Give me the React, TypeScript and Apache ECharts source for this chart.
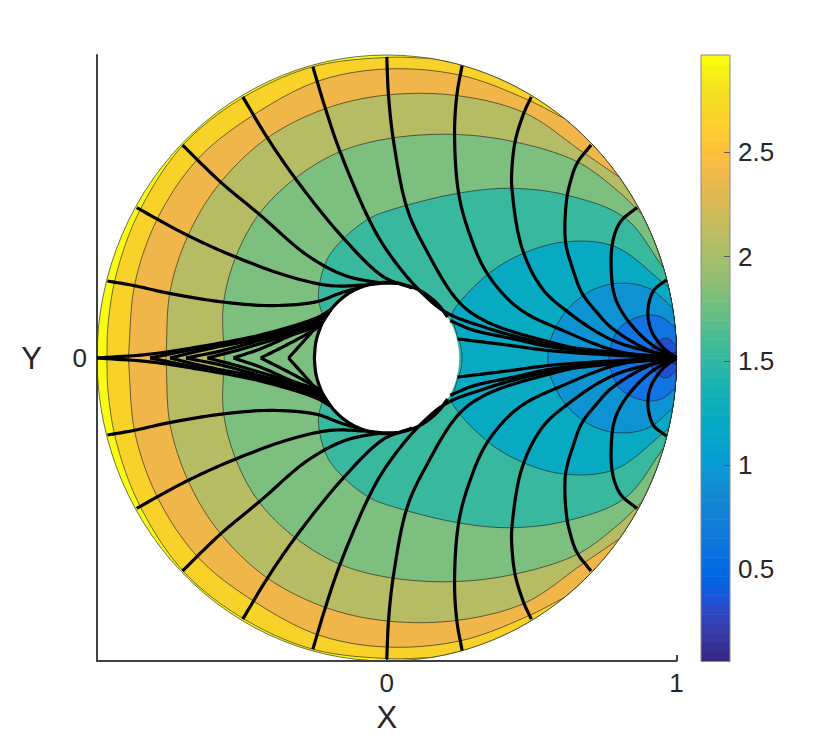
import React, { useEffect, useRef } from "react";
import * as echarts from "echarts";

type P = number[];

// Contour levels (upper half; the lower half mirrors them)
const K1: P[] = [[-0.966,0],[-0.962,0.109],[-0.934,0.274],[-0.855,0.482],[-0.703,0.703],[-0.497,0.859],[-0.256,0.961],[0.001,0.992],[0.15,0.989]];
const K2: P[] = [[-0.892,0],[-0.869,0.247],[-0.788,0.466],[-0.65,0.659],[-0.46,0.802],[-0.236,0.914],[0.001,0.954],[0.26,0.932],[0.489,0.851],[0.61,0.792]];
const K3: P[] = [[-0.762,0],[-0.748,0.219],[-0.685,0.406],[-0.581,0.571],[-0.414,0.725],[-0.209,0.824],[0.001,0.868],[0.242,0.866],[0.478,0.808],[0.674,0.681],[0.807,0.594]];
const K4: P[] = [[-0.561,0],[-0.564,0.175],[-0.523,0.329],[-0.443,0.472],[-0.316,0.593],[-0.161,0.681],[0.012,0.725],[0.231,0.738],[0.438,0.714],[0.657,0.648],[0.8,0.549],[0.876,0.479]];
const K5: P[] = [[-0.161,0],[-0.224,0.149],[-0.236,0.208],[-0.207,0.323],[-0.143,0.4],[-0.059,0.461],[0.012,0.488],[0.248,0.544],[0.432,0.56],[0.628,0.536],[0.824,0.461],[0.956,0.296]];
const K6: P[] = [[0.26,0],[0.256,0.036],[0.245,0.069],[0.23,0.119],[0.225,0.145],[0.346,0.274],[0.473,0.346],[0.622,0.384],[0.789,0.367],[0.972,0.234]];
const K7: P[] = [[0.556,0],[0.559,0.043],[0.617,0.153],[0.709,0.224],[0.807,0.247],[0.904,0.23],[0.988,0.165]];
const K8: P[] = [[0.766,0],[0.772,0.037],[0.807,0.103],[0.887,0.14],[0.945,0.136],[0.995,0.102]];
const K9: P[] = [[0.91,0],[0.916,0.033],[0.939,0.057],[0.968,0.065],[0.998,0.043]];
const K10: P[] = [[0.985,0],[0.986,0.017],[0.9995,0.02]];
const CONTOURS = [K1, K2, K3, K4, K5, K6, K7, K8, K9, K10];
const DISC_COLOR = "#f9fb15";
const BAND_COLORS = ["#f8d228", "#f1b649", "#b6bc64", "#7cbf7f", "#38b89e", "#08a9c2", "#0e93d2", "#1473e3", "#2050d0", "#352a87"];
const OUTER_RADIUS = 1;
const HOLE_RADIUS = 0.25;

// Streamlines (upper half)
const L1: P[] = [[-0.964,0.254],[-0.872,0.239],[-0.754,0.214],[-0.558,0.184],[-0.391,0.173],[-0.241,0.186],[-0.161,0.214],[-0.103,0.23]];
const L2: P[] = [[-0.863,0.496],[-0.69,0.406],[-0.523,0.334],[-0.333,0.268],[-0.195,0.239],[-0.08,0.241],[0,0.249]];
const L3: P[] = [[-0.705,0.703],[-0.575,0.582],[-0.437,0.472],[-0.276,0.34],[-0.149,0.274],[-0.034,0.25],[0.047,0.246]];
const L4: P[] = [[-0.497,0.862],[-0.414,0.73],[-0.316,0.593],[-0.149,0.395],[-0.011,0.268],[0.088,0.231]];
const L5: P[] = [[-0.255,0.961],[-0.212,0.824],[-0.161,0.681],[-0.063,0.461],[-0.005,0.363],[0.098,0.238],[0.202,0.152],[0.333,0.103],[0.45,0.07],[0.575,0.043],[0.772,0.02],[0.962,0.003],[1,0]];
const L6: P[] = [[0,0.994],[0.006,0.868],[0.023,0.719],[0.07,0.494],[0.133,0.362],[0.248,0.186],[0.346,0.119],[0.558,0.054],[0.743,0.016],[1,0]];
const L7: P[] = [[0.26,0.965],[0.242,0.868],[0.234,0.736],[0.248,0.544],[0.283,0.417],[0.346,0.28],[0.455,0.164],[0.617,0.087],[0.801,0.021],[1,0]];
const L8: P[] = [[0.499,0.862],[0.473,0.808],[0.444,0.719],[0.432,0.626],[0.432,0.56],[0.467,0.362],[0.536,0.23],[0.617,0.158],[0.778,0.059],[1,0]];
const L9: P[] = [[0.705,0.703],[0.657,0.643],[0.634,0.582],[0.62,0.516],[0.617,0.384],[0.645,0.285],[0.674,0.214],[0.723,0.153],[0.778,0.098],[0.904,0.026],[1,0]];
const L10: P[] = [[0.864,0.497],[0.807,0.45],[0.78,0.384],[0.775,0.285],[0.789,0.197],[0.835,0.12],[0.916,0.043],[1,0]];
const L11: P[] = [[0.965,0.257],[0.922,0.224],[0.902,0.164],[0.91,0.098],[0.951,0.037],[1,0]];
const LA: P[] = [[0.244,0.063],[0.415,0.043],[0.565,0.024],[0.772,0.01],[1,0]];
const LB: P[] = [[0.219,0.123],[0.299,0.092],[0.437,0.063],[0.565,0.037],[0.772,0.015],[1,0]];
const RIM: P[] = [[-0.25,0],[-0.245,0.05],[-0.235,0.085],[-0.217,0.125],[-0.177,0.177],[-0.125,0.217],[-0.065,0.241],[0,0.25],[0.065,0.241],[0.125,0.217],[0.177,0.177],[0.21,0.135]];
const V1: P[] = [[-0.339,0],[-0.258,0.087],[-0.241,0.109],[-0.195,0.158]];
const V2: P[] = [[-0.435,0],[-0.362,0.035],[-0.293,0.07],[-0.236,0.103],[-0.195,0.158]];
const V3: P[] = [[-0.529,0],[-0.431,0.032],[-0.327,0.076],[-0.237,0.109],[-0.195,0.158]];
const V4: P[] = [[-0.619,0],[-0.513,0.026],[-0.397,0.059],[-0.271,0.098],[-0.195,0.158]];
const V5: P[] = [[-0.693,0],[-0.569,0.024],[-0.431,0.06],[-0.258,0.109],[-0.195,0.158]];
const V6: P[] = [[-0.748,0],[-0.617,0.03],[-0.431,0.066],[-0.258,0.113],[-0.195,0.158]];
const V7: P[] = [[-0.817,0],[-0.661,0.03],[-0.431,0.072],[-0.241,0.129],[-0.195,0.158]];
const V8: P[] = [[-1,0],[-0.824,0.012],[-0.661,0.035],[-0.431,0.077],[-0.241,0.133],[-0.195,0.158]];
const STREAMLINES = [L1, L2, L3, L4, L5, L6, L7, L8, L9, L10, L11, LA, LB, RIM, V1, V2, V3, V4, V5, V6, V7, V8];

// Axis ticks
const X_TICKS = [0, 1];
const Y_TICKS = [0];
const CBAR_TICKS = [0.5, 1, 1.5, 2, 2.5];
const CBAR_MIN = 0.057;
const CBAR_MAX = 2.967;

// Colour map of the colour bar (64 steps)
const PARULA: number[][] = [
  [0.2081,0.1663,0.5292],[0.2116,0.1898,0.5777],[0.2123,0.2138,0.627],[0.2081,0.2386,0.6771],[0.1959,0.2645,0.7279],[0.1707,0.2919,0.7792],[0.1253,0.3242,0.8303],[0.0591,0.3598,0.8683],
  [0.0117,0.3875,0.882],[0.006,0.4086,0.8828],[0.0165,0.4266,0.8786],[0.0329,0.443,0.872],[0.0498,0.4586,0.8641],[0.0629,0.4737,0.8554],[0.0723,0.4887,0.8467],[0.0779,0.504,0.8384],
  [0.0793,0.52,0.8312],[0.0749,0.5375,0.8263],[0.0641,0.557,0.824],[0.0488,0.5772,0.8228],[0.0343,0.5966,0.8199],[0.0265,0.6137,0.8135],[0.0239,0.6287,0.8038],[0.0231,0.6418,0.7913],
  [0.0228,0.6535,0.7768],[0.0267,0.6642,0.7607],[0.0384,0.6743,0.7436],[0.059,0.6838,0.7254],[0.0843,0.6928,0.7062],[0.1133,0.7015,0.6859],[0.1453,0.7098,0.6646],[0.1801,0.7177,0.6424],
  [0.2178,0.725,0.6193],[0.2586,0.7317,0.5954],[0.3022,0.7376,0.5712],[0.3482,0.7424,0.5473],[0.3953,0.7459,0.5244],[0.442,0.7481,0.5033],[0.4871,0.7491,0.484],[0.53,0.7491,0.4661],
  [0.5709,0.7485,0.4494],[0.6099,0.7473,0.4337],[0.6473,0.7456,0.4188],[0.6834,0.7435,0.4044],[0.7184,0.7411,0.3905],[0.7525,0.7384,0.3768],[0.7858,0.7356,0.3633],[0.8185,0.7327,0.3498],
  [0.8507,0.7299,0.336],[0.8824,0.7274,0.3217],[0.9139,0.7258,0.3063],[0.945,0.7261,0.2886],[0.9739,0.7314,0.2666],[0.9938,0.7455,0.2403],[0.999,0.7653,0.2164],[0.9955,0.7861,0.1967],
  [0.988,0.8066,0.1794],[0.9789,0.8271,0.1633],[0.9697,0.8481,0.1475],[0.9626,0.8705,0.1309],[0.9589,0.8949,0.1132],[0.9598,0.9218,0.0948],[0.9661,0.9514,0.0755],[0.9763,0.9831,0.0538],
];

const FONT = "'Liberation Sans', Arial, sans-serif";
const INK = "#262626";

const mirror = (pts: P[]): P[] => pts.map(([x, y]) => [x, -y]);
const ALL_LINES = [...STREAMLINES, ...STREAMLINES.map(mirror)];

// Centripetal Catmull-Rom smoothing of a polyline, on drawing coordinates
function spline(pts: number[][]): number[][] {
  const n = pts.length;
  if (n < 3) return pts;
  const dt: number[] = [];
  for (let i = 0; i < n - 1; i++) {
    dt.push(Math.max(Math.sqrt(Math.hypot(pts[i + 1][0] - pts[i][0], pts[i + 1][1] - pts[i][1])), 1e-3));
  }
  const tangent = (i: number, d: number) => {
    if (i === 0) return (pts[1][d] - pts[0][d]) / dt[0];
    if (i === n - 1) return (pts[n - 1][d] - pts[n - 2][d]) / dt[n - 2];
    return (pts[i][d] - pts[i - 1][d]) / dt[i - 1] - (pts[i + 1][d] - pts[i - 1][d]) / (dt[i - 1] + dt[i]) + (pts[i + 1][d] - pts[i][d]) / dt[i];
  };
  const out: number[][] = [];
  for (let i = 0; i < n - 1; i++) {
    for (let k = 0; k < 10; k++) {
      const t = k / 10, t2 = t * t, t3 = t2 * t;
      out.push([0, 1].map((d) =>
        (2 * t3 - 3 * t2 + 1) * pts[i][d] + (t3 - 2 * t2 + t) * dt[i] * tangent(i, d) + (-2 * t3 + 3 * t2) * pts[i + 1][d] + (t3 - t2) * dt[i] * tangent(i + 1, d)
      ));
    }
  }
  out.push(pts[n - 1]);
  return out;
}

function ring(radius: number, from: number, to: number, coord: (p: number[]) => number[]): number[][] {
  const res: number[][] = [];
  const n = 120;
  for (let i = 0; i <= n; i++) {
    const a = from + ((to - from) * i) / n;
    res.push(coord([radius * Math.cos(a), radius * Math.sin(a)]));
  }
  return res;
}

const EDGE = { stroke: "rgba(30,30,30,0.8)", lineWidth: 0.8 };

function renderBands(params: any, api: any) {
  const coord = (p: number[]) => api.coord(p);
  const i = params.dataIndex;
  if (i === 0) {
    return { type: "polygon", shape: { points: ring(OUTER_RADIUS, Math.PI, -Math.PI, coord) }, style: { fill: DISC_COLOR, ...EDGE } };
  }
  if (i === CONTOURS.length + 1) {
    return { type: "polygon", shape: { points: ring(HOLE_RADIUS, Math.PI, -Math.PI, coord) }, style: { fill: "#ffffff" } };
  }
  const curve = CONTOURS[i - 1];
  const end = curve[curve.length - 1];
  const theta = Math.atan2(end[1], end[0]);
  const upper = spline(curve.map(coord));
  const lower = spline(mirror(curve).reverse().map(coord));
  const points = upper.concat(ring(OUTER_RADIUS, theta, -theta, coord)).concat(lower);
  return { type: "polygon", shape: { points }, style: { fill: BAND_COLORS[i - 1], ...EDGE } };
}

function renderStream(params: any, api: any) {
  const points = spline(ALL_LINES[params.dataIndex].map((p) => api.coord(p)));
  return { type: "polyline", shape: { points }, style: { fill: "none", stroke: "#000000", lineWidth: 3.2 } };
}

function renderBar(params: any, api: any) {
  const n = PARULA.length;
  const left = api.coord([0, CBAR_MIN]);
  const right = api.coord([1, CBAR_MAX]);
  if (params.dataIndex === n) {
    return { type: "rect", shape: { x: left[0], y: right[1], width: right[0] - left[0], height: left[1] - right[1] }, style: { fill: "none", stroke: "#8a8a8a", lineWidth: 1 } };
  }
  const [r, g, b] = PARULA[params.dataIndex];
  const y0 = api.coord([0, CBAR_MIN + ((CBAR_MAX - CBAR_MIN) * params.dataIndex) / n])[1];
  const y1 = api.coord([0, CBAR_MIN + ((CBAR_MAX - CBAR_MIN) * (params.dataIndex + 1)) / n])[1];
  return {
    type: "rect",
    shape: { x: left[0], y: y1, width: right[0] - left[0], height: y0 - y1 + 0.5 },
    style: { fill: `rgb(${Math.round(r * 255)},${Math.round(g * 255)},${Math.round(b * 255)})` },
  };
}

export default function App() {
  const ref = useRef<HTMLDivElement>(null);
  useEffect(() => {
    const chart = echarts.init(ref.current!, undefined, { renderer: "svg" });
    const axisText = { color: INK, fontSize: 26, fontFamily: FONT };
    chart.setOption({
      animation: false,
      backgroundColor: "#ffffff",
      grid: [
        { left: 97, top: 55, width: 579.5, height: 606 },
        { left: 701, top: 55, width: 29, height: 606.5 },
      ],
      xAxis: [
        {
          gridIndex: 0, type: "value", min: -1, max: 1, z: 3,
          splitLine: { show: false },
          axisLine: { show: true, onZero: false, lineStyle: { color: "#404040", width: 2 } },
          axisTick: { show: true, inside: true, length: 6, customValues: X_TICKS, lineStyle: { color: "#404040", width: 2 } },
          axisLabel: { ...axisText, margin: 9, customValues: X_TICKS, formatter: (v: number) => String(v) },
          name: "X", nameLocation: "middle", nameGap: 41,
          nameTextStyle: { color: INK, fontSize: 31, fontFamily: FONT },
        },
        { gridIndex: 1, type: "value", min: 0, max: 1, show: false },
      ],
      yAxis: [
        {
          gridIndex: 0, type: "value", min: -1, max: 1, z: 3,
          splitLine: { show: false },
          axisLine: { show: true, onZero: false, lineStyle: { color: "#404040", width: 2 } },
          axisTick: { show: true, inside: true, length: 6, customValues: Y_TICKS, lineStyle: { color: "#404040", width: 2 } },
          axisLabel: { ...axisText, margin: 10, customValues: Y_TICKS, formatter: (v: number) => String(v) },
          name: "Y", nameLocation: "middle", nameGap: 55, nameRotate: 0,
          nameTextStyle: { color: INK, fontSize: 31, fontFamily: FONT, padding: [6, 0, 0, 0] },
        },
        {
          gridIndex: 1, type: "value", position: "right", min: CBAR_MIN, max: CBAR_MAX, z: 6,
          splitLine: { show: false },
          axisLine: { show: false, onZero: false },
          axisTick: { show: true, inside: true, length: 6, customValues: CBAR_TICKS, lineStyle: { color: "#555555", width: 1 } },
          axisLabel: { ...axisText, margin: 8, customValues: CBAR_TICKS, formatter: (v: number) => String(v) },
        },
      ],
      series: [
        {
          type: "custom", xAxisIndex: 0, yAxisIndex: 0, silent: true, clip: false, z: 2,
          renderItem: renderBands,
          data: [DISC_COLOR, ...BAND_COLORS, "hole"].map(() => [0, 0]),
        },
        {
          type: "custom", xAxisIndex: 0, yAxisIndex: 0, silent: true, clip: false, z: 4,
          renderItem: renderStream,
          data: ALL_LINES.map(() => [0, 0]),
        },
        {
          type: "custom", xAxisIndex: 1, yAxisIndex: 1, silent: true, clip: false, z: 2,
          renderItem: renderBar,
          data: [...PARULA, "frame"].map(() => [0, 1]),
        },
      ],
    });
    return () => chart.dispose();
  }, []);
  return <div ref={ref} style={{ position: "fixed", left: 0, top: 0, width: 830, height: 743 }} />;
}
